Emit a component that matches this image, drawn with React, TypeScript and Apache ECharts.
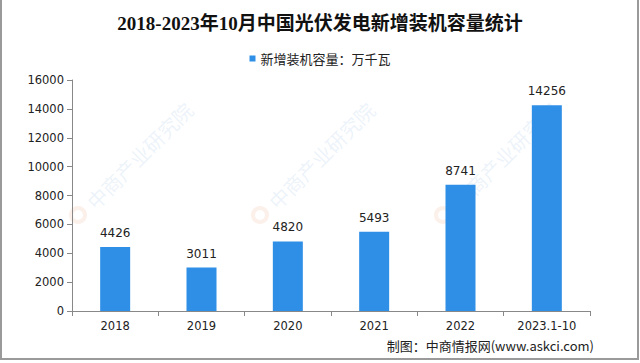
import React, { useEffect, useRef } from "react";
import * as echarts from "echarts";

const categories = ["2018", "2019", "2020", "2021", "2022", "2023.1-10"];
const values = [4426, 3011, 4820, 5493, 8741, 14256];
const seriesName = "新增装机容量：万千瓦";
const titleText = "2018-2023年10月中国光伏发电新增装机容量统计";
const footerText = "制图：中商情报网(www.askci.com)";
const watermarkText = "中商产业研究院";
const watermarkAnchors: [number, number][] = [
  [90, 205], [272, 205], [455, 205],
];

export default function App() {
  const ref = useRef<HTMLDivElement>(null);
  useEffect(() => {
    document.body.style.margin = "0";
    const chart = echarts.init(ref.current!, undefined, { renderer: "svg" });
    const watermarks: any[] = [];
    watermarkAnchors.forEach(([x, y]) => {
      watermarks.push({
        type: "text",
        x,
        y,
        rotation: Math.PI / 4,
        z: -10,
        silent: true,
        style: {
          text: watermarkText,
          fill: "rgba(160,195,230,0.2)",
          font: "20px 'Noto Sans CJK SC'",
          textVerticalAlign: "middle",
        },
      });
      watermarks.push({
        type: "circle",
        z: -10,
        silent: true,
        shape: { cx: x - 12, cy: y + 10, r: 7 },
        style: { fill: "none", stroke: "rgba(240,180,150,0.2)", lineWidth: 4 },
      });
    });
    chart.setOption({
      animation: false,
      backgroundColor: "#ffffff",
      title: {
        text: titleText,
        left: "center",
        top: 9,
        textStyle: {
          fontFamily: "'Liberation Serif', 'Noto Sans CJK SC'",
          fontSize: 19,
          fontWeight: "bold",
          color: "#111",
        },
      },
      legend: {
        data: [seriesName],
        top: 47,
        left: "center",
        icon: "rect",
        itemWidth: 6,
        itemHeight: 6,
        itemGap: 4,
        textStyle: {
          fontFamily: "'Noto Sans CJK SC'",
          fontSize: 13,
          color: "#222",
        },
      },
      grid: { left: 72, right: 50, top: 80, bottom: 52 },
      xAxis: {
        type: "category",
        data: categories,
        axisLine: { lineStyle: { color: "#888" } },
        axisTick: { show: true, alignWithLabel: false, length: 5, lineStyle: { color: "#888" } },
        axisLabel: {
          fontFamily: "'DejaVu Sans'",
          fontSize: 11.5,
          color: "#222",
          margin: 9,
          interval: 0,
        },
      },
      yAxis: {
        type: "value",
        min: 0,
        max: 16000,
        interval: 2000,
        axisLine: { show: true, lineStyle: { color: "#888" } },
        axisTick: { show: true, length: 5, lineStyle: { color: "#888" } },
        splitLine: { show: false },
        axisLabel: {
          fontFamily: "'DejaVu Sans'",
          fontSize: 11.5,
          color: "#222",
          margin: 8,
          formatter: (v: number) => String(v),
        },
      },
      series: [
        {
          name: seriesName,
          type: "bar",
          data: values,
          barWidth: 30,
          itemStyle: { color: "#2F8FE6" },
          label: {
            show: true,
            position: "top",
            distance: 8,
            fontFamily: "'DejaVu Sans'",
            fontSize: 12,
            color: "#222",
          },
        },
      ],
      graphic: [
        ...watermarks,
        {
          type: "text",
          right: 46,
          top: 339,
          style: {
            text: footerText,
            font: "13px 'Noto Sans CJK SC'",
            fill: "#222",
          },
        },
        {
          type: "rect",
          silent: true,
          shape: { x: 1, y: -4, width: 637, height: 363 },
          style: { fill: "none", stroke: "#9a9a9a", lineWidth: 2 },
        },
      ],
    });
    return () => chart.dispose();
  }, []);
  return (
    <div
      ref={ref}
      style={{ position: "fixed", left: 0, top: 0, width: 640, height: 363 }}
    />
  );
}
